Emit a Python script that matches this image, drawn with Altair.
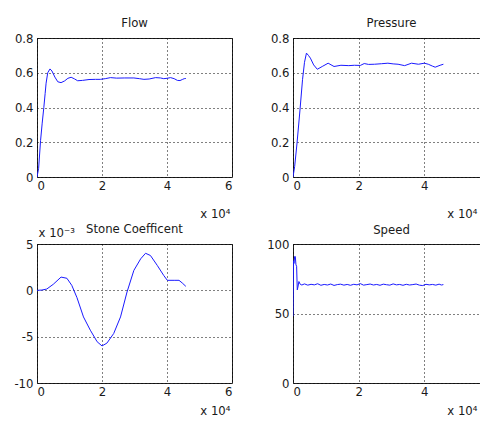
import altair as alt
import pandas as pd

# ---- data (x in units of 1e4) ----
flow_x = [0, 0.05, 0.11, 0.16, 0.21, 0.25, 0.28, 0.33, 0.40, 0.46, 0.55, 0.64, 0.74, 0.85, 0.95, 1.05,
          1.15, 1.25, 1.40, 1.60, 1.80, 1.95, 2.10, 2.26, 2.45, 2.70, 2.98, 3.15, 3.29, 3.45, 3.65,
          3.80, 3.90, 4.00, 4.11, 4.22, 4.32, 4.40, 4.47, 4.53, 4.58]
flow_y = [0, 0.05, 0.21, 0.31, 0.40, 0.48, 0.54, 0.60, 0.622, 0.61, 0.575, 0.548, 0.543, 0.553, 0.568, 0.574,
          0.565, 0.554, 0.556, 0.561, 0.562, 0.562, 0.566, 0.572, 0.569, 0.570, 0.570, 0.566, 0.562, 0.564, 0.572,
          0.570, 0.566, 0.568, 0.572, 0.566, 0.556, 0.555, 0.561, 0.566, 0.567]

pres_x = [0, 0.05, 0.12, 0.21, 0.29, 0.35, 0.41, 0.47, 0.53, 0.63, 0.74, 0.89, 1.07, 1.25, 1.46, 1.70,
          1.87, 2.05, 2.17, 2.30, 2.48, 2.70, 2.89, 3.05, 3.20, 3.40, 3.61, 3.82, 4.00, 4.12, 4.25,
          4.33, 4.48, 4.58]
pres_y = [0, 0.06, 0.19, 0.38, 0.56, 0.66, 0.713, 0.70, 0.684, 0.645, 0.62, 0.636, 0.655, 0.636, 0.643, 0.641,
          0.643, 0.642, 0.653, 0.648, 0.649, 0.652, 0.655, 0.651, 0.649, 0.641, 0.655, 0.649, 0.655, 0.649, 0.638,
          0.632, 0.643, 0.649]

# Stone coefficient values in units of 1e-3
stone_x = [0, 0.15, 0.30, 0.50, 0.74, 0.92, 1.07, 1.23, 1.43, 1.64, 1.85, 2.00, 2.15, 2.36, 2.57, 2.77,
           2.98, 3.19, 3.34, 3.49, 3.70, 3.90, 4.01, 4.22, 4.37, 4.47, 4.58]
stone_y = [0, 0.03, 0.14, 0.65, 1.43, 1.30, 0.54, -0.79, -2.87, -4.30, -5.55, -6.0, -5.7, -4.66, -2.87, -0.18,
           2.15, 3.40, 4.0, 3.76, 2.69, 1.60, 1.08, 1.08, 1.08, 0.79, 0.43]

speed_x = [0, 0.015, 0.03, 0.05, 0.07, 0.09, 0.11, 0.13, 0.15, 0.18, 0.22, 0.27,
           0.35, 0.45, 0.55, 0.65, 0.75, 0.85, 0.95, 1.05, 1.15, 1.25, 1.35, 1.45, 1.55, 1.65,
           1.75, 1.85, 1.95, 2.05, 2.15, 2.25, 2.35, 2.45, 2.55, 2.65, 2.75, 2.85, 2.95, 3.05,
           3.15, 3.25, 3.35, 3.45, 3.55, 3.65, 3.75, 3.85, 3.95, 4.05, 4.15, 4.25, 4.35, 4.45, 4.52, 4.58]
speed_y = [48, 88, 86, 91, 91, 85, 84, 67, 69, 73, 71, 70.5,
           71.3, 70.4, 71.0, 70.6, 71.4, 70.3, 70.9, 70.5, 71.2, 70.2, 70.8, 71.1, 70.4, 70.9,
           70.3, 71.0, 70.6, 71.5, 70.4, 70.8, 71.2, 70.5, 70.9, 70.3, 71.1, 70.7, 70.4, 71.3,
           70.6, 70.9, 70.3, 71.0, 70.5, 70.8, 71.2, 70.4, 70.1, 71.0, 70.6, 70.9, 70.4, 71.1, 70.5, 70.8]

FONT = "DejaVu Sans"
FS = 11.7
TXT = "#1a1a1a"
LINE = "#1a1aff"


def panel(title, xs, ys, ydom, yvals, title_dy, xtitle_x, xtitle_y, width=195, ytitle=None):
    df = pd.DataFrame({"x": xs, "y": ys})
    xaxis = alt.Axis(values=[0, 2, 4, 6], labelExpr="datum.value + ''", title="x 10\u2074",
                     titleX=xtitle_x, titleY=xtitle_y, titleAlign="right", titleBaseline="alphabetic",
                     titleFontWeight="normal", titleFontSize=FS, titleFont=FONT, titleColor=TXT,
                     labelPadding=3)
    yargs = dict(values=yvals, labelExpr="datum.value + ''", labelPadding=4)
    if ytitle:
        yargs.update(title=ytitle, titleAngle=0, titleX=1, titleY=-8, titleAlign="left",
                     titleBaseline="alphabetic", titleFontWeight="normal", titleFontSize=FS,
                     titleFont=FONT, titleColor=TXT)
    else:
        yargs.update(title=None)
    yaxis = alt.Axis(**yargs)
    return alt.Chart(df).mark_line(color=LINE, strokeWidth=1, clip=True).encode(
        x=alt.X("x:Q", scale=alt.Scale(domain=[0, 6], nice=False, zero=False), axis=xaxis),
        y=alt.Y("y:Q", scale=alt.Scale(domain=ydom, nice=False, zero=False), axis=yaxis),
        order="x:Q",
    ).properties(
        width=width, height=139,
        title=alt.TitleParams(title, fontSize=FS, fontWeight="normal", font=FONT, color=TXT,
                              offset=9, frame="group", dy=title_dy),
    )


flow = panel("Flow", flow_x, flow_y, [0, 0.8], [0, 0.2, 0.4, 0.6, 0.8], 6, 193, 40)
pres = panel("Pressure", pres_x, pres_y, [0, 0.8], [0, 0.2, 0.4, 0.6, 0.8], 6, 184, 40, width=197)
stone = panel("Stone Coefficent", stone_x, stone_y, [-10, 5], [-10, -5, 0, 5], 18, 193, 31,
              ytitle="x 10\u207b\u00b3")
speed = panel("Speed", speed_x, speed_y, [0, 100], [0, 50, 100], 7, 184, 31, width=197)

chart = alt.concat(flow, pres, stone, speed, columns=2, spacing={"row": 67, "column": 61},
                   bounds="flush").configure_axis(
    grid=True, gridColor="#000", gridDash=[1, 3], gridOpacity=1, gridWidth=1,
    domain=False, ticks=False, labelFont=FONT, labelFontSize=FS, labelColor=TXT,
).configure_view(stroke="#222", strokeWidth=1).properties(
    autosize=alt.AutoSizeParams(type="none"),
    padding={"left": 29, "top": 30, "right": 443, "bottom": 380}, background="white"
)

chart.save("out.html", embed_options={"renderer": "svg", "actions": False})
